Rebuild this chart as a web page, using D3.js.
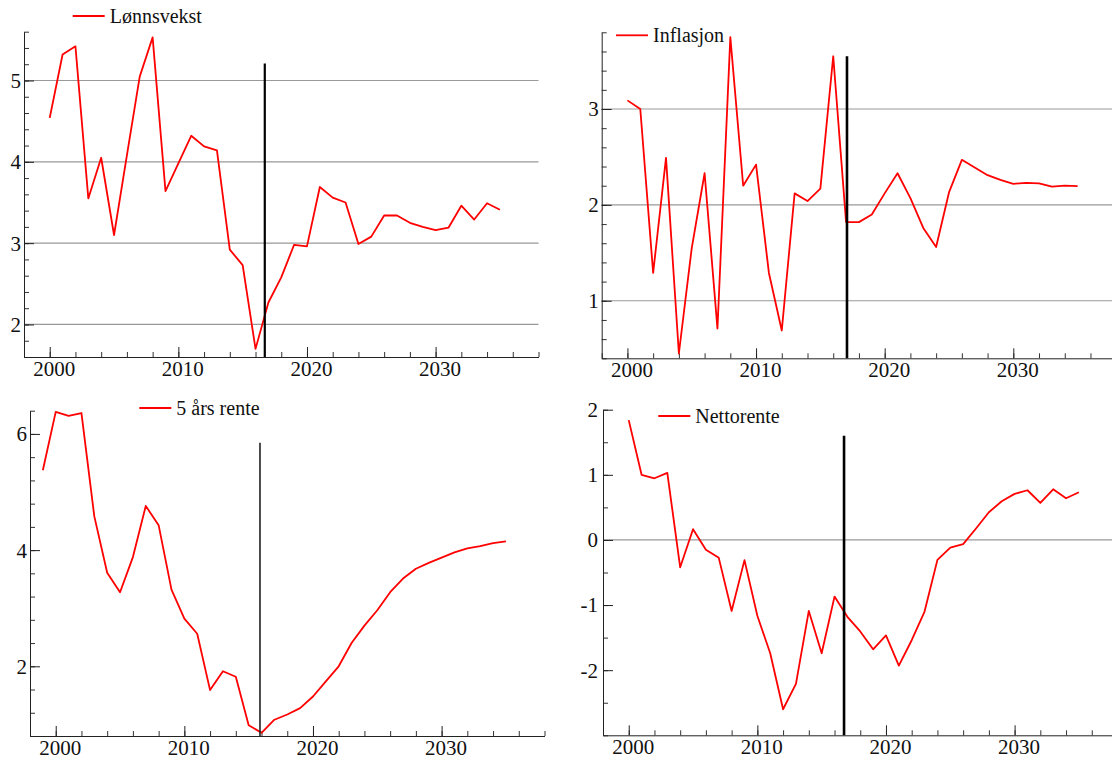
<!DOCTYPE html>
<meta charset="utf-8">
<style>
  body { margin: 0; background: #fff; }
  svg text { font-family: "Liberation Serif", "DejaVu Serif", serif; }
</style>
<svg width="1112" height="760"></svg>
<script src="https://d3js.org/d3.v7.min.js"></script>

<script>
// years on the x axis (the interest-rate series starts one year earlier)
const yearsMain = d3.range(2000, 2036);
const yearsRente = d3.range(1999, 2036);

const lonnsvekst = [4.54, 5.32, 5.42, 3.55, 4.05, 3.10, 4.08, 5.05, 5.53, 3.64,
  3.98, 4.32, 4.19, 4.14, 2.92, 2.73, 1.70, 2.27, 2.58, 2.98,
  2.96, 3.69, 3.56, 3.50, 2.99, 3.08, 3.34, 3.34, 3.25, 3.20,
  3.16, 3.19, 3.46, 3.29, 3.49, 3.41];

const inflasjon = [3.09, 3.00, 1.29, 2.49, 0.45, 1.55, 2.33, 0.71, 3.75, 2.20,
  2.42, 1.29, 0.69, 2.12, 2.04, 2.17, 3.55, 1.82, 1.82, 1.90,
  2.12, 2.33, 2.07, 1.76, 1.56, 2.13, 2.47, 2.39, 2.31, 2.26,
  2.22, 2.23, 2.225, 2.19, 2.20, 2.195];

const rente5 = [5.375, 6.38, 6.31, 6.36, 4.58, 3.61, 3.275, 3.88, 4.76, 4.43,
  3.32, 2.82, 2.56, 1.59, 1.915, 1.82, 0.986, 0.855, 1.08, 1.17,
  1.28, 1.48, 1.74, 2.00, 2.40, 2.70, 2.965, 3.275, 3.51, 3.68,
  3.78, 3.87, 3.96, 4.03, 4.07, 4.12, 4.15];

const nettorente = [1.84, 1.00, 0.947, 1.03, -0.42, 0.165, -0.15, -0.275, -1.09, -0.31,
  -1.165, -1.74, -2.60, -2.21, -1.09, -1.74, -0.87, -1.18, -1.405, -1.68,
  -1.466, -1.93, -1.54, -1.10, -0.306, -0.117, -0.065, 0.175, 0.425, 0.594,
  0.707, 0.763, 0.568, 0.778, 0.64, 0.732];

const seriesNames = ["Lønnsvekst", "Inflasjon", "5 års rente", "Nettorente"];

// the vertical "last observation" marker in each panel
const markerYears = [2016.72, 2017.07, 2015.88, 2016.74];
const markerTops = [5.21, 3.55, 5.85, 1.60];

const xMajor = [2000, 2010, 2020, 2030];
const xDomain = [1998, 2038];

const panels = [
  {years: yearsMain, values: lonnsvekst, left: 24, top: 31.7, bottom: 357,
   yDomain: [1.6, 5.6], yMajor: [2, 3, 4, 5], yStep: 0.2, grid: [2, 3, 4, 5],
   legend: {x: 72.7, y: 16}, markW: 2.2, markColor: "#000", labelGap: 3},
  {years: yearsMain, values: inflasjon, left: 601.7, top: 32.3, bottom: 358.3,
   yDomain: [0.4, 3.8], yMajor: [1, 2, 3], yStep: 0.2, grid: [1, 2, 3],
   legend: {x: 616, y: 35.3}, markW: 2.6, markColor: "#000", labelGap: 3},
  {years: yearsRente, values: rente5, left: 30, top: 410.7, bottom: 736,
   yDomain: [0.8, 6.4], yMajor: [2, 4, 6], yStep: 0.4, grid: [],
   legend: {x: 139.3, y: 408}, markW: 1.6, markColor: "#222", labelGap: 3},
  {years: yearsMain, values: nettorente, left: 603, top: 409.7, bottom: 735.3,
   yDomain: [-3, 2], yMajor: [-2, -1, 0, 1, 2], yStep: 0.5, grid: [0],
   legend: {x: 658.3, y: 416}, markW: 2.6, markColor: "#000", labelGap: 5}
];

const plotWidth = 514.5;

const svg = d3.select("svg");

panels.forEach((p, i) => {
  const x = d3.scaleLinear(xDomain, [p.left, p.left + plotWidth]);
  const y = d3.scaleLinear(p.yDomain, [p.bottom, p.top]);
  const g = svg.append("g");

  // gridlines
  g.append("g")
    .selectAll("line")
    .data(p.grid)
    .join("line")
      .attr("x1", p.left)
      .attr("x2", p.left + plotWidth)
      .attr("y1", d => y(d))
      .attr("y2", d => y(d))
      .attr("stroke", "#999")
      .attr("stroke-width", 1.2);

  // minor ticks
  const yMinor = d3.range(p.yDomain[0], p.yDomain[1] + 1e-6, p.yStep);
  g.append("g")
    .attr("transform", `translate(${p.left},0)`)
    .call(d3.axisLeft(y).tickValues(yMinor).tickSize(-5).tickFormat(""))
    .call(a => a.select(".domain").remove())
    .attr("color", "#333");

  const xMinor = d3.range(xDomain[0], xDomain[1] + 1, 2);
  g.append("g")
    .attr("transform", `translate(0,${p.bottom})`)
    .call(d3.axisBottom(x).tickValues(xMinor).tickSize(-5).tickFormat(""))
    .call(a => a.select(".domain").remove())
    .attr("color", "#333");

  // major axes
  g.append("g")
    .attr("transform", `translate(${p.left},0)`)
    .call(d3.axisLeft(y).tickValues(p.yMajor).tickSize(-10).tickSizeOuter(0)
      .tickPadding(p.labelGap).tickFormat(d => String(d)))
    .attr("color", "#222")
    .attr("font-size", 21)
    .call(a => a.selectAll("text").attr("fill", "#111").attr("dy", "0.33em"));

  g.append("g")
    .attr("transform", `translate(0,${p.bottom})`)
    .call(d3.axisBottom(x).tickValues(xMajor).tickSize(-10).tickSizeOuter(0)
      .tickPadding(4).tickFormat(d3.format("d")))
    .attr("color", "#222")
    .attr("font-size", 21)
    .call(a => a.selectAll("text").attr("fill", "#111").attr("dx", 4));

  // series
  const line = d3.line()
    .x((d, j) => x(p.years[j]))
    .y(d => y(d));

  g.append("path")
    .datum(p.values)
    .attr("fill", "none")
    .attr("stroke", "#ff0000")
    .attr("stroke-width", 1.8)
    .attr("stroke-linejoin", "round")
    .attr("d", line);

  // vertical marker
  g.append("line")
    .attr("x1", x(markerYears[i]))
    .attr("x2", x(markerYears[i]))
    .attr("y1", y(markerTops[i]))
    .attr("y2", p.bottom)
    .attr("stroke", p.markColor)
    .attr("stroke-width", p.markW);

  // legend
  const lg = g.append("g").attr("transform", `translate(${p.legend.x},${p.legend.y})`);
  lg.append("line")
    .attr("x1", 0).attr("x2", 32)
    .attr("stroke", "#ff0000")
    .attr("stroke-width", 1.8);
  lg.append("text")
    .attr("x", 37)
    .attr("y", 7)
    .attr("font-size", 20)
    .attr("fill", "#111")
    .text(seriesNames[i]);
});
</script>
